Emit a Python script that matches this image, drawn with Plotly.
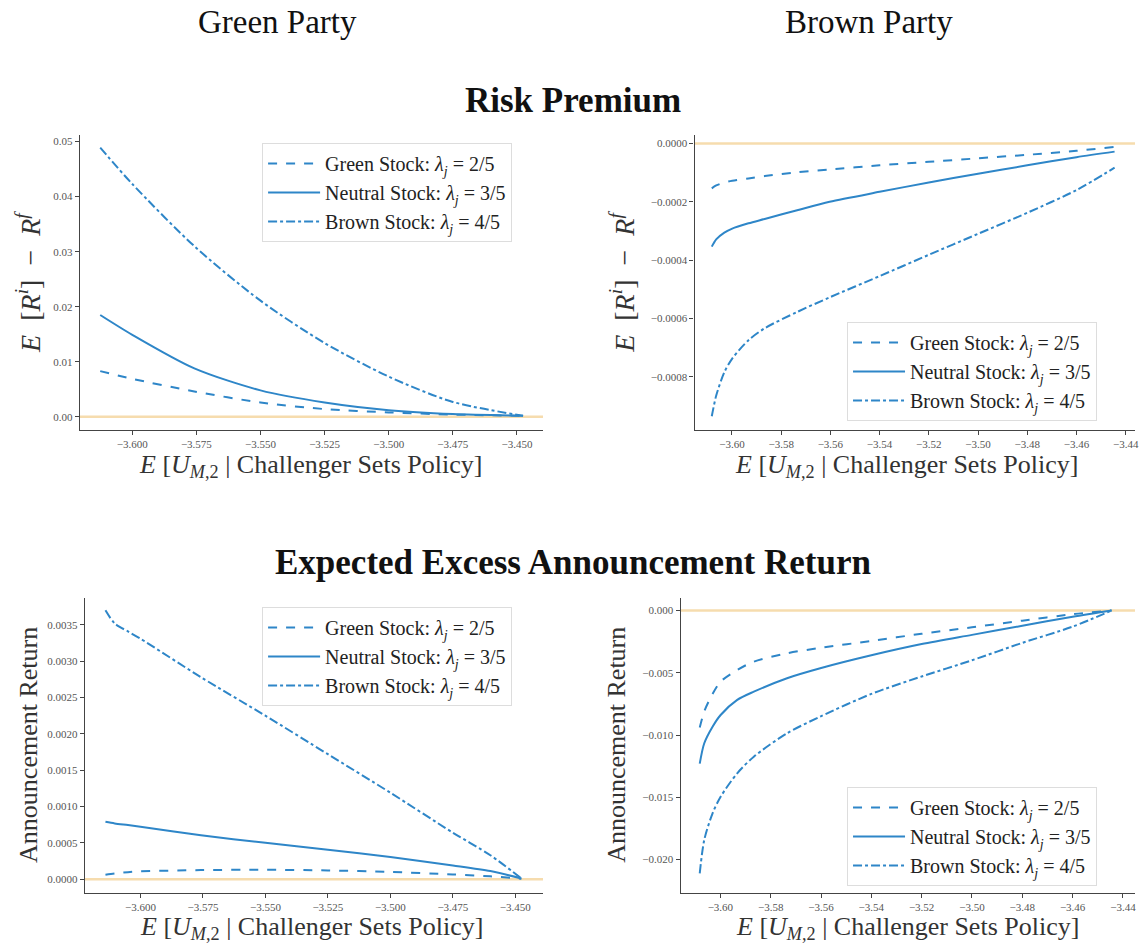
import plotly.graph_objects as go

# ---------------- data ----------------
series_names = ["Green Stock: <i>λ<sub>j</sub></i> = 2/5",
                "Neutral Stock: <i>λ<sub>j</sub></i> = 3/5",
                "Brown Stock: <i>λ<sub>j</sub></i> = 4/5"]

# Green Party (left column) - risk premium
x_green_party_rp = [-3.6125, -3.600, -3.5758, -3.550, -3.525, -3.500, -3.475, -3.4476]
rp_green_party_green = [0.0083, 0.0069, 0.0046, 0.0026, 0.0014, 0.0008, 0.0004, 0.0002]
rp_green_party_neutral = [0.0185, 0.0149, 0.0088, 0.0048, 0.0026, 0.0012, 0.0005, 0.0002]
rp_green_party_brown = [0.0489, 0.0423, 0.0310, 0.0211, 0.0134, 0.0073, 0.0027, 0.0002]

# Green Party (left column) - announcement return
x_green_party_ar = [-3.6140, -3.6103, -3.605, -3.600, -3.5758, -3.550, -3.525, -3.500, -3.475,
                    -3.460, -3.4476]
ar_green_party_green = [0.000062, 0.000080, 0.000097, 0.000108, 0.000125, 0.000130, 0.000120,
                        0.000100, 0.000065, 0.000040, 0.000005]
ar_green_party_neutral = [0.000790, 0.000768, 0.000745, 0.000722, 0.000605, 0.000500, 0.000405,
                          0.000305, 0.000190, 0.000112, 0.000010]
ar_green_party_brown = [0.00370, 0.00352, 0.00341, 0.00331, 0.00278, 0.00225, 0.00172, 0.00119,
                        0.00064, 0.00033, 0.00001]

# Brown Party (right column)
x_brown_party = [-3.6082, -3.6064, -3.6031, -3.5999, -3.5933, -3.5867, -3.5735, -3.5603,
                 -3.540, -3.520, -3.500, -3.480, -3.460, -3.4445]
rp_brown_party_green = [-0.000154, -0.000144, -0.000134, -0.000128, -0.000120, -0.000112, -0.000099,
                        -0.000089, -0.000075, -0.000063, -0.000051, -0.000039, -0.000025, -0.000012]
rp_brown_party_neutral = [-0.000354, -0.000329, -0.000306, -0.000292, -0.000274, -0.000259, -0.000229,
                          -0.000200, -0.000166, -0.000134, -0.000104, -0.000075, -0.000047, -0.000028]
rp_brown_party_brown = [-0.000936, -0.000865, -0.000785, -0.000738, -0.000675, -0.000634, -0.000578,
                        -0.000528, -0.000455, -0.000382, -0.000310, -0.000238, -0.000160, -0.000083]

ar_brown_party_green = [-0.0094, -0.0081, -0.0067, -0.00571, -0.00478, -0.00411, -0.00344, -0.00300,
                        -0.00245, -0.00187, -0.00135, -0.00082, -0.00030, 0.0]
ar_brown_party_neutral = [-0.0123, -0.01066, -0.00933, -0.00839, -0.00718, -0.00652, -0.00544, -0.00464,
                          -0.0036, -0.0027, -0.00196, -0.00123, -0.0005, 0.0]
ar_brown_party_brown = [-0.0211, -0.01842, -0.01628, -0.01495, -0.01307, -0.01174, -0.00986, -0.00852,
                        -0.0067, -0.0053, -0.0040, -0.0026, -0.0013, 0.0]

column_titles = ["Green Party", "Brown Party"]
row_titles = ["Risk Premium", "Expected Excess Announcement Return"]

# ---------------- style ----------------
W, H = 1144, 947
LINE = "#2e86c8"
ZERO = "#f6dcae"
FONT = "Liberation Serif"
dashes = ["dash", "solid", "dashdot"]


def px_x(p):
    return p / W


def px_y(p):
    return 1 - p / H


panels = [
    dict(n=1, x=x_green_party_rp, ys=[rp_green_party_green, rp_green_party_neutral, rp_green_party_brown],
         xd=(80, 545), yd=(135, 430), xr=[-3.6205, -3.4398], yr=[-0.0024, 0.0512],
         xt=0.025, yt=0.01, xf=".3f", yf=".2f", leg=(263, 143)),
    dict(n=2, x=x_brown_party, ys=[rp_brown_party_green, rp_brown_party_neutral, rp_brown_party_brown],
         xd=(697, 1139), yd=(135, 430), xr=[-3.6152, -3.4362], yr=[-0.000983, 0.000029],
         xt=0.02, yt=0.0002, xf=".2f", yf=".4f", leg=(850, 322)),
    dict(n=3, x=x_green_party_ar, ys=[ar_green_party_green, ar_green_party_neutral, ar_green_party_brown],
         xd=(85, 545), yd=(598, 893), xr=[-3.6223, -3.4389], yr=[-0.00019, 0.00387],
         xt=0.025, yt=0.0005, xf=".3f", yf=".4f", leg=(263, 607)),
    dict(n=4, x=x_brown_party, ys=[ar_brown_party_green, ar_brown_party_neutral, ar_brown_party_brown],
         xd=(683, 1139), yd=(598, 893), xr=[-3.6158, -3.4352], yr=[-0.02268, 0.001],
         xt=0.02, yt=0.005, xf=".2f", yf=".3f", leg=(850, 787)),
]

fig = go.Figure()
layout = dict(
    width=W, height=H, margin=dict(l=0, r=0, t=0, b=0),
    paper_bgcolor="white", plot_bgcolor="white",
    font=dict(family=FONT, color="#222222"),
    showlegend=True,
)

for p in panels:
    n = p["n"]
    xa = "x" if n == 1 else f"x{n}"
    ya = "y" if n == 1 else f"y{n}"
    lg = "legend" if n == 1 else f"legend{n}"
    fig.add_trace(go.Scatter(x=[p["xr"][0], p["xr"][1]], y=[0, 0], mode="lines",
                             line=dict(color=ZERO, width=2.5), xaxis=xa, yaxis=ya,
                             showlegend=False, hoverinfo="skip"))
    for k, (name, ys, d) in enumerate(zip(series_names, p["ys"], dashes)):
        fig.add_trace(go.Scatter(x=p["x"], y=ys, mode="lines", name=name,
                                 line=dict(color=LINE, width=2, dash=d, shape="spline", smoothing=0.8),
                                 xaxis=xa, yaxis=ya, legend=lg))
    axcommon = dict(showgrid=False, zeroline=False, showline=True, linecolor="#444444", linewidth=1.2,
                    ticks="outside", ticklen=4, tickcolor="#444444",
                    tickfont=dict(family=FONT, size=11, color="#555555"))
    layout["xaxis" if n == 1 else f"xaxis{n}"] = dict(
        domain=[px_x(p["xd"][0]), px_x(p["xd"][1])], range=p["xr"], anchor=ya,
        dtick=p["xt"], tick0=-3.6, tickformat=p["xf"], **axcommon)
    layout["yaxis" if n == 1 else f"yaxis{n}"] = dict(
        domain=[px_y(p["yd"][1]), px_y(p["yd"][0])], range=p["yr"], anchor=xa,
        dtick=p["yt"], tick0=0, tickformat=p["yf"], **axcommon)
    layout[lg] = dict(x=px_x(p["leg"][0]), y=px_y(p["leg"][1]), xanchor="left", yanchor="top",
                      xref="paper", yref="paper",
                      bgcolor="rgba(255,255,255,0.8)", bordercolor="#dddddd", borderwidth=1,
                      font=dict(family=FONT, size=20, color="#222222"), itemwidth=52)

fig.update_layout(**layout)

annotations = []
for t, cx in zip(column_titles, [278, 872]):
    annotations.append(dict(text=t, x=px_x(cx), y=px_y(22), xref="paper", yref="paper",
                            showarrow=False, font=dict(family=FONT, size=33, color="#111111"),
                            xanchor="center", yanchor="middle"))
for t, cy in zip(row_titles, [100, 562]):
    annotations.append(dict(text=f"<b>{t}</b>", x=px_x(575), y=px_y(cy), xref="paper", yref="paper",
                            showarrow=False, font=dict(family=FONT, size=35, color="#111111"),
                            xanchor="center", yanchor="middle"))
xlab = "<i>E</i> [<i>U</i><sub><i>M</i>,2</sub> | Challenger Sets Policy]"
ylab_rp = "<i>E</i>  [<i>R</i><sup><i>i</i></sup>]  −  <i>R</i><sup><i>f</i></sup>"
ylab_ar = "Announcement Return"
for cx, cy in [(312, 466), (910, 466), (313, 928), (911, 928)]:
    annotations.append(dict(text=xlab, x=px_x(cx), y=px_y(cy), xref="paper", yref="paper",
                            showarrow=False, font=dict(family=FONT, size=26, color="#333333"),
                            xanchor="center", yanchor="middle"))
for t, cx, cy, fs in [(ylab_rp, 28, 282, 28), (ylab_rp, 624, 282, 28),
                      (ylab_ar, 28, 745, 26), (ylab_ar, 618, 745, 26)]:
    annotations.append(dict(text=t, x=px_x(cx), y=px_y(cy), xref="paper", yref="paper",
                            showarrow=False, textangle=-90,
                            font=dict(family=FONT, size=fs, color="#333333"),
                            xanchor="center", yanchor="middle"))
fig.update_layout(annotations=annotations)

fig.write_html("out.html")
